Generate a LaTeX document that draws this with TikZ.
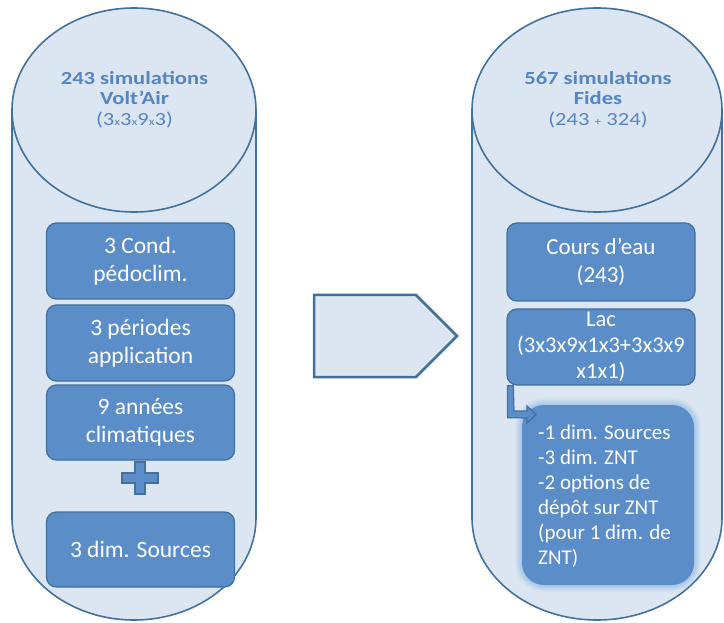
\documentclass[tikz,border=0pt]{standalone}
\usepackage{fontspec}
\setmainfont{Carlito}
\newfontfamily\headfont[FakeStretch=1.22]{Carlito}
\usetikzlibrary{calc}
\definecolor{cylfill}{HTML}{DCE6F2}
\definecolor{cylline}{HTML}{41719C}
\definecolor{boxfill}{HTML}{5B8DC9}
\definecolor{boxline}{HTML}{41719C}
\definecolor{headtxt}{HTML}{5585C2}
\definecolor{glowc}{HTML}{9DC3E6}
\tikzset{
  cyl/.style={draw=cylline, line width=1.6pt, fill=cylfill},
  bx/.style={draw=boxline, line width=1.3pt, fill=boxfill, rounded corners=10pt,
    text=white, align=center, inner sep=0pt, minimum width=188pt, minimum height=76pt,
    font=\fontsize{23.5}{28}\selectfont},
  head/.style={text=headtxt, align=center, inner sep=0pt, anchor=north, font=\headfont\fontsize{18.5}{20.5}\selectfont},
}
\newcommand{\smx}{{\fontsize{11}{11}\selectfont x}}
\newcommand{\smp}{{\fontsize{11}{11}\selectfont +}}
\begin{document}
\begin{tikzpicture}[x=1pt,y=-1pt]
\useasboundingbox (0,0) rectangle (724,623);
\fill[white] (0,0) rectangle (724,623);
% left cylinder
\path[cyl] (12,110) -- (12,518) arc[start angle=180,end angle=0,x radius=122,y radius=102] -- (256,110);
\path[cyl] (134,110) ellipse[x radius=122,y radius=102];
% right cylinder
\path[cyl] (472,110) -- (472,518) arc[start angle=180,end angle=0,x radius=125,y radius=102] -- (722,110);
\path[cyl] (597,110) ellipse[x radius=125,y radius=102];
% headers
\node[head] (h1) at (134.5,71) {\textbf{243 simulations}\\\textbf{Volt’Air}\\(3\smx3\smx9\smx3)};
\node[head] (h2) at (598,71) {\textbf{567 simulations}\\\textbf{Fides}\\(243 \smp\ 324)};
% left boxes
\node[bx] (l1) at (140.5,261) {3 Cond.\\pédoclim.};
\node[bx] (l2) at (140.5,343) {3 périodes\\application};
\node[bx, minimum height=75pt] (l3) at (140.5,422.5) {9 années\\climatiques};
\node[bx, minimum height=75pt] (l4) at (140.5,549.5) {3 dim. Sources};
% plus
\path[draw=boxline, line width=1.3pt, fill=boxfill] (135,462)--(145,462)--(145,473)--(158,473)--(158,483)--(145,483)--(145,494)--(135,494)--(135,483)--(122,483)--(122,473)--(135,473)--cycle;
% big arrow
\path[draw=cylline, line width=2.5pt, fill=cylfill, line join=miter] (314,295)--(416,295)--(457,336)--(416,377)--(314,377)--cycle;
% right boxes
\node[bx, minimum height=78pt, font=\fontsize{23}{28}\selectfont] (r1) at (601,262) {Cours d’eau\\(243)};
\node[bx, font=\fontsize{22.5}{26}\selectfont] (r2) at (601,347) {Lac\\(3x3x9x1x3+3x3x9\\x1x1)};
% glow box
\foreach \w/\o in {14/0.15,10/0.25,6/0.35,3/0.5}{
  \draw[glowc, line width=\w pt, opacity=\o, rounded corners=22pt] (522,405) rectangle (694,585);
}
\node[fill=boxfill, rounded corners=22pt, minimum width=172pt, minimum height=180pt, inner sep=0pt] (r3) at (608,495) {};
\node[text=white, align=left, anchor=north west, inner sep=0pt, font=\fontsize{21}{25}\selectfont] (r3t) at (538,425) {-1 dim. Sources\\-3 dim. ZNT\\-2 options de\\dépôt sur ZNT\\(pour 1 dim. de\\ZNT)};
% bent arrow
\path[draw=boxline, line width=1.2pt, fill=boxfill, line join=miter]
  ($(r2.south west)+(1,0)$) -- ++(0,32) -- (527,418) -- (527,423) -- (536,414.5) -- (527,406) -- (527,411) -- (514,411) -- ($(r2.south west)+(7,0)$) -- cycle;
\end{tikzpicture}
\end{document}
